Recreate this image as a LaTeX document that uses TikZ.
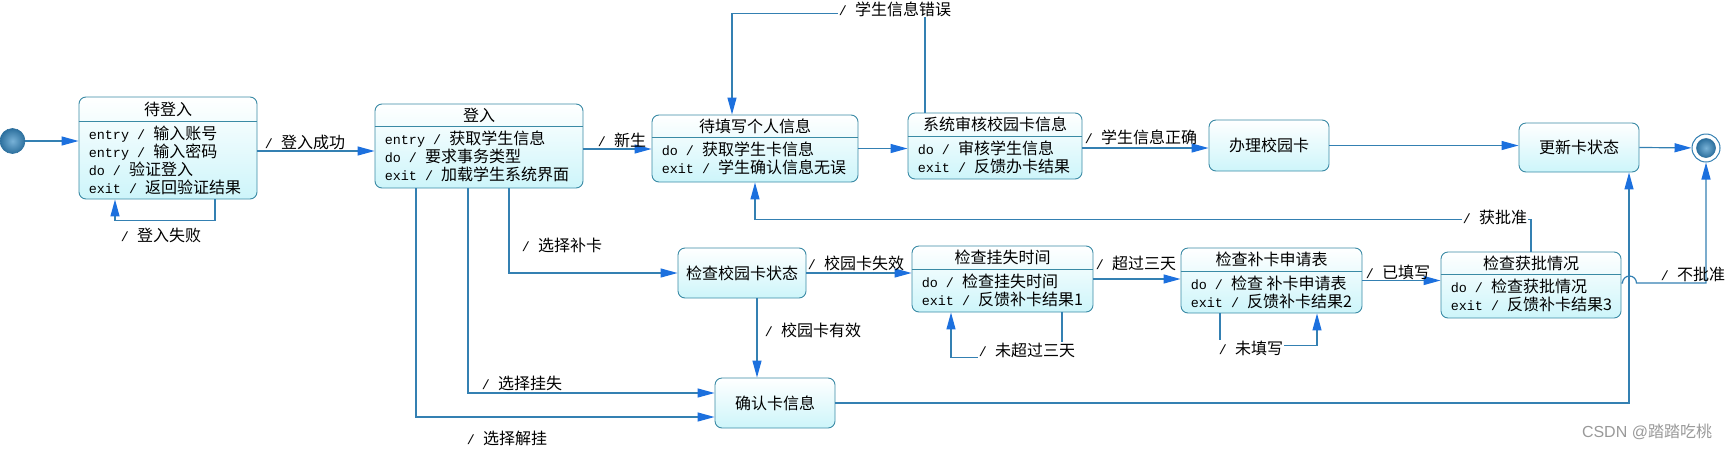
\documentclass[tikz,border=0pt]{standalone}
\usepackage{fontspec}
\setmainfont{Noto Sans CJK SC}
\newfontfamily\codefont[Scale=0.84]{Liberation Mono}
\newfontfamily\markfont{Liberation Sans}
\usepackage{xcolor}
\usetikzlibrary{arrows.meta}
\definecolor{linecol}{RGB}{52,128,178}
\definecolor{edgecol}{RGB}{58,138,165}
\definecolor{tipblue}{RGB}{28,112,222}
\definecolor{cyanlt}{RGB}{205,245,250}
\definecolor{balllt}{RGB}{120,178,215}
\definecolor{balldk}{RGB}{45,112,158}
\newcommand{\act}[2]{{\codefont #1 / }#2}
\newcommand{\guard}[1]{{\codefont / }#1}

\begin{document}
\begin{tikzpicture}[x=1pt, y=-1pt,
  every node/.style={font=\fontsize{16}{18}\selectfont},
  state/.style={draw=edgecol, line width=0.9pt, rounded corners=7pt, top color=white, bottom color=cyanlt, inner sep=0pt},
  sep/.style={draw=edgecol, line width=0.9pt},
  body/.style={anchor=north west, align=left, inner sep=0pt},
  ball/.style={circle, inner sep=0pt, inner color=balllt, outer color=balldk, draw=balldk, line width=0.6pt},
  tr/.style={draw=linecol, line width=1.2pt, -{Triangle[length=17pt, width=9pt, color=tipblue]}},
  lbl/.style={inner sep=1pt},
  lblw/.style={lbl, fill=white}]
\useasboundingbox (0,0) rectangle (1731,450);

% start and end
\node[ball, minimum size=25pt] (init) at (12.5,141) {};
\node[circle, draw=linecol, line width=1pt, fill=white, minimum size=28pt, inner sep=0pt] (final) at (1706,148) {};
\node[ball, minimum size=19pt] (finalIn) at (final.center) {};

% states with compartments
\node[state, minimum width=178pt, minimum height=102pt] (wait) at (168,148) {};
\draw[sep] ([yshift=-25pt]wait.north west) -- ([yshift=-25pt]wait.north east);
\node (waitT) at ([yshift=-12.5pt]wait.north) {待登入};
\node[body] (waitB) at ([shift={(10pt,-29.5pt)}]wait.north west)
  {\act{entry}{输入账号}\\\act{entry}{输入密码}\\\act{do}{验证登入}\\\act{exit}{返回验证结果}};

\node[state, minimum width=208pt, minimum height=84pt] (login) at (479,146) {};
\draw[sep] ([yshift=-23pt]login.north west) -- ([yshift=-23pt]login.north east);
\node (loginT) at ([yshift=-11.5pt]login.north) {登入};
\node[body] (loginB) at ([shift={(10pt,-27.5pt)}]login.north west)
  {\act{entry}{获取学生信息}\\\act{do}{要求事务类型}\\\act{exit}{加载学生系统界面}};

\node[state, minimum width=206pt, minimum height=67pt] (fill) at (755,148.5) {};
\draw[sep] ([yshift=-23pt]fill.north west) -- ([yshift=-23pt]fill.north east);
\node (fillT) at ([yshift=-11.5pt]fill.north) {待填写个人信息};
\node[body] (fillB) at ([shift={(10pt,-27.5pt)}]fill.north west)
  {\act{do}{获取学生卡信息}\\\act{exit}{学生确认信息无误}};

\node[state, minimum width=174pt, minimum height=66pt] (audit) at (995,146) {};
\draw[sep] ([yshift=-24pt]audit.north west) -- ([yshift=-24pt]audit.north east);
\node (auditT) at ([yshift=-12pt]audit.north) {系统审核校园卡信息};
\node[body] (auditB) at ([shift={(10pt,-28.5pt)}]audit.north west)
  {\act{do}{审核学生信息}\\\act{exit}{反馈办卡结果}};

\node[state, minimum width=181pt, minimum height=66pt] (losstime) at (1002.5,279) {};
\draw[sep] ([yshift=-24pt]losstime.north west) -- ([yshift=-24pt]losstime.north east);
\node (losstimeT) at ([yshift=-12pt]losstime.north) {检查挂失时间};
\node[body] (losstimeB) at ([shift={(10pt,-28.5pt)}]losstime.north west)
  {\act{do}{检查挂失时间}\\\act{exit}{反馈补卡结果1}};

\node[state, minimum width=181pt, minimum height=65pt] (form) at (1271.5,280.5) {};
\draw[sep] ([yshift=-24pt]form.north west) -- ([yshift=-24pt]form.north east);
\node (formT) at ([yshift=-12pt]form.north) {检查补卡申请表};
\node[body] (formB) at ([shift={(10pt,-28.5pt)}]form.north west)
  {\act{do}{检查 补卡申请表}\\\act{exit}{反馈补卡结果2}};

\node[state, minimum width=180pt, minimum height=66pt] (approve) at (1531,285) {};
\draw[sep] ([yshift=-23pt]approve.north west) -- ([yshift=-23pt]approve.north east);
\node (approveT) at ([yshift=-11.5pt]approve.north) {检查获批情况};
\node[body] (approveB) at ([shift={(10pt,-27.5pt)}]approve.north west)
  {\act{do}{检查获批情况}\\\act{exit}{反馈补卡结果3}};

% simple states
\node[state, minimum width=128pt, minimum height=50pt] (checkcard) at (742,273) {检查校园卡状态};
\node[state, minimum width=120pt, minimum height=51pt] (issue) at (1269,145.5) {办理校园卡};
\node[state, minimum width=120pt, minimum height=49pt] (update) at (1579,147.5) {更新卡状态};
\node[state, minimum width=120pt, minimum height=50pt] (confirm) at (775,403) {确认卡信息};

% transitions
\draw[tr] (init.east) -- (init.east -| wait.west);
\draw[tr] ([yshift=-3pt]wait.east) -- ([yshift=-3pt]wait.east -| login.west);
\draw[tr] ([xshift=47pt]wait.south) -- ++(0,21) -| ([xshift=-53pt]wait.south);
\draw[tr] ([yshift=-3pt]login.east) -- ([yshift=-3pt]login.east -| fill.west);
\draw[tr] (fill.east) -- (fill.east -| audit.west);
\draw[tr] ([xshift=-70pt]audit.north) -- ++(0,-99) -| ([xshift=-23pt]fill.north);
\draw[tr] ([yshift=-2pt]audit.east) -- ([yshift=-2pt]audit.east -| issue.west);
\draw[tr] (issue.east) -- (issue.east -| update.west);
\draw[tr] (update.east) -- (final);
\draw[tr] ([xshift=30pt]login.south) |- (checkcard.west);
\draw[tr] ([xshift=-11pt]login.south) |- ([yshift=10pt]confirm.west);
\draw[tr] ([xshift=-63pt]login.south) |- ([yshift=-14pt]confirm.west);
\draw[tr] (checkcard.east) -- (checkcard.east -| losstime.west);
\draw[tr] ([xshift=15pt]checkcard.south) -- ([xshift=15pt]checkcard.south |- confirm.north);
\draw[tr] (confirm.east) -| ([xshift=50pt]update.south);
\draw[tr] (losstime.east) -- (losstime.east -| form.west);
\draw[tr] ([xshift=59.5pt]losstime.south) -- ++(0,45) -| ([xshift=-51.5pt]losstime.south);
\draw[tr] (form.east) -- (form.east -| approve.west);
\draw[tr] ([xshift=-51.5pt]form.south) -- ++(0,32) -| ([xshift=45.5pt]form.south);
\draw[tr] (approve.north) -- ++(0,-32) -| (fill.south);
\draw[tr] ([yshift=2pt]approve.east) -- ++(1,0) arc[start angle=180, end angle=0, radius=7pt] -| (final.south);

% guards
\node[lbl] (lOk) at (305,142) {\guard{登入成功}};
\node[lbl] (lFail) at (161,235) {\guard{登入失败}};
\node[lbl] (lNew) at (622,140) {\guard{新生}};
\node[lblw] (lErr) at (895,9) {\guard{学生信息错误}};
\node[lbl] (lRight) at (1141,137) {\guard{学生信息正确}};
\node[lbl] (lRepl) at (562,245) {\guard{选择补卡}};
\node[lbl] (lBad) at (856,263) {\guard{校园卡失效}};
\node[lbl] (lValid) at (813,330) {\guard{校园卡有效}};
\node[lbl] (lLost) at (522,383) {\guard{选择挂失}};
\node[lbl] (lUnlock) at (507,438) {\guard{选择解挂}};
\node[lbl] (lOver) at (1136,263) {\guard{超过三天}};
\node[lblw] (lUnder) at (1027,350) {\guard{未超过三天}};
\node[lbl] (lDone) at (1398,272) {\guard{已填写}};
\node[lblw] (lTodo) at (1251,348) {\guard{未填写}};
\node[lblw] (lOkay) at (1495,217) {\guard{获批准}};
\node[lbl] (lNo) at (1693,274) {\guard{不批准}};

\node[text=black!40] (mark) at (1647,432) {{\markfont CSDN @}踏踏吃桃};
\end{tikzpicture}
\end{document}
